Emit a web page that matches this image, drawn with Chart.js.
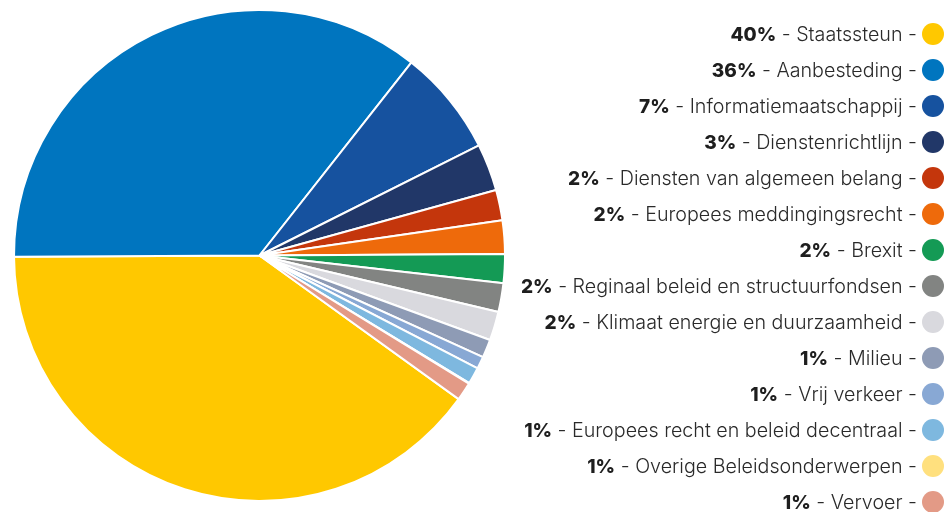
<!DOCTYPE html>
<html><head><meta charset="utf-8">
<script src="https://cdn.jsdelivr.net/npm/chart.js@4"></script>
<style>html,body{margin:0;padding:0;background:#fff;overflow:hidden}canvas{display:block}</style>
</head><body>
<canvas id="c" width="944" height="512"></canvas>
<script>
const categories = ['Staatssteun','Aanbesteding','Informatiemaatschappij','Dienstenrichtlijn','Diensten van algemeen belang','Europees meddingingsrecht','Brexit','Reginaal beleid en structuurfondsen','Klimaat energie en duurzaamheid','Milieu','Vrij verkeer','Europees recht en beleid decentraal','Overige Beleidsonderwerpen','Vervoer'];
const shares = [40, 35.7, 7, 3.1, 2, 2.2, 1.9, 1.9, 1.9, 1.2, 0.8, 1.1, 0.05, 1.2];
const percentLabels = ['40%','36%','7%','3%','2%','2%','2%','2%','2%','1%','1%','1%','1%','1%'];
const colors = ['#FFC800','#0075BF','#16529F','#213768','#C4360C','#EE6A0B','#149A55','#828482','#D9D9DE','#8E9BB5','#88A8D4','#7EB8DF','#FFE07E','#E39A86'];

const sideLegend = {
  id: 'sideLegend',
  afterDraw(chart) {
    const ctx = chart.ctx;
    ctx.save();
    ctx.textBaseline = 'middle';
    ctx.textAlign = 'right';
    const reg = '300 19.7px Inter';
    const bold = '800 19px Inter';
    categories.forEach((cat, i) => {
      const y = 34 + i * 36;
      ctx.fillStyle = colors[i];
      ctx.beginPath();
      ctx.arc(933, y, 11, 0, Math.PI * 2);
      ctx.fill();
      const rest = ' - ' + cat + ' -';
      ctx.font = reg;
      const w = ctx.measureText(rest).width;
      ctx.fillStyle = '#2a2a2a';
      ctx.fillText(rest, 917, y + 1);
      ctx.font = bold;
      ctx.fillStyle = '#1e1e1e';
      ctx.fillText(percentLabels[i], 917 - w, y + 1);
    });
    ctx.restore();
  }
};

new Chart(document.getElementById('c'), {
  type: 'pie',
  data: {
    labels: categories,
    datasets: [{
      data: shares,
      backgroundColor: colors,
      borderColor: '#ffffff',
      borderWidth: 2
    }]
  },
  options: {
    responsive: false,
    animation: false,
    rotation: 125.8,
    layout: { padding: { left: 13, top: 9, right: 438, bottom: 10 } },
    plugins: { legend: { display: false }, tooltip: { enabled: false } }
  },
  plugins: [sideLegend]
});
</script>
</body></html>
